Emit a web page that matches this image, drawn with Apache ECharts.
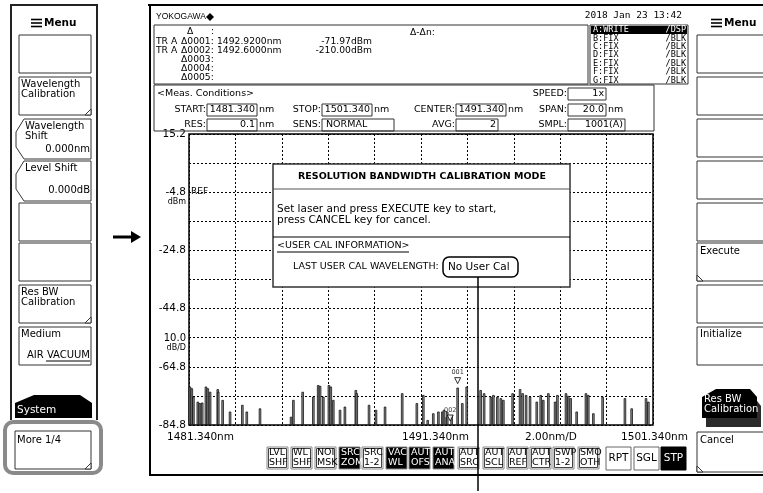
<!DOCTYPE html>
<html><head><meta charset="utf-8">
<script src="https://cdn.jsdelivr.net/npm/echarts@6/dist/echarts.min.js"></script>
<style>html,body{margin:0;padding:0;background:#fff}#c{width:763px;height:493px}</style>
</head><body><div id="c"></div>
<script>
// Sweep window
const START_NM = 1481.34;
const STOP_NM = 1501.34;
const NM_PER_DIV = 2;
const TOP_DBM = 15.2;
const BOTTOM_DBM = -84.8;
const DB_PER_DIV = 10;

// Axis annotations
const yTickLabels = ['15.2', '-4.8', '-24.8', '-44.8', '-64.8', '-84.8'];
const xTickLabels = ['1481.340nm', '1491.340nm', '2.00nm/D', '1501.340nm'];

// Trace A: spike wavelengths (nm) and peak levels (dBm)
const spikeNm = [1481.38,1481.46,1481.53,1481.72,1481.81,1481.91,1482.07,1482.15,1482.25,1482.58,1482.60,1482.79,1483.11,1483.64,1483.83,1484.40,1485.74,1485.84,1486.24,1486.70,1486.91,1486.99,1487.13,1487.37,1487.45,1487.56,1487.85,1488.06,1488.53,1488.57,1489.10,1489.40,1489.79,1490.53,1491.16,1491.44,1491.63,1491.87,1492.09,1492.26,1492.33,1492.45,1492.47,1492.66,1492.92,1493.12,1493.31,1493.91,1494.06,1494.35,1494.46,1494.63,1494.78,1494.89,1495.29,1495.61,1495.72,1495.87,1496.04,1496.33,1496.50,1496.61,1496.83,1497.12,1497.22,1497.59,1497.69,1497.79,1498.05,1498.45,1498.55,1498.77,1499.17,1500.13,1500.42,1501.04,1501.14];
const spikeDbm = [-71.6,-72.2,-75.1,-76.8,-77.3,-77.1,-71.6,-72.2,-73.4,-72.5,-73.4,-76.2,-80.2,-77.9,-80.2,-79.1,-82.0,-76.2,-73.4,-75.1,-71.1,-71.4,-75.1,-71.1,-71.6,-76.2,-79.6,-78.5,-72.8,-73.9,-77.9,-79.6,-78.5,-73.9,-77.3,-74.5,-83.1,-80.8,-80.2,-80.2,-79.6,-82.0,-80.2,-81.4,-71.97,-77.3,-71.6,-72.8,-73.9,-75.1,-74.5,-75.1,-75.6,-76.2,-73.9,-72.5,-73.9,-74.5,-75.1,-76.8,-74.5,-76.2,-73.9,-76.8,-74.5,-73.9,-74.8,-75.6,-80.2,-73.9,-74.5,-80.8,-75.1,-75.6,-79.1,-75.6,-76.8];

// Markers
const markerIds = ['001', '002'];
const markerNm = [1492.92, 1492.60];
const markerDbm = [-71.97, -210.00];

// Marker readout table
const markerRows = [
  ['TR A', '\u03940001:', '1492.9200nm', '-71.97dBm'],
  ['TR A', '\u03940002:', '1492.6000nm', '-210.00dBm'],
  ['', '\u03940003:', '', ''],
  ['', '\u03940004:', '', ''],
  ['', '\u03940005:', '', '']
];

// Trace status
const traceNames = ['A:WRITE', 'B:FIX', 'C:FIX', 'D:FIX', 'E:FIX', 'F:FIX', 'G:FIX'];
const traceModes = ['/DSP', '/BLK', '/BLK', '/BLK', '/BLK', '/BLK', '/BLK'];

// Status buttons along the bottom
const statusTop = ['LVL','WL','NOI','SRC','SRC','VAC','AUT','AUT','AUT','AUT','AUT','AUT','SWP','SMO'];
const statusBot = ['SHF','SHF','MSK','ZOM','1-2','WL','OFS','ANA','SRC','SCL','REF','CTR','1-2','OTH'];
const statusOn = [0,0,0,1,0,1,1,1,0,0,0,0,0,0];
const sweepKeys = ['RPT', 'SGL', 'STP'];
const sweepOn = [0, 0, 1];

const F = 'DejaVu Sans';
const MONO = 'DejaVu Sans Mono';
const G = [];
function rect(x, y, w, h, o = {}) {
  G.push({ type: 'rect', z: o.z || 20, shape: { x, y, width: w, height: h, r: o.r || 0 },
    style: { fill: o.fill || 'none', stroke: o.stroke === undefined ? '#333' : o.stroke, lineWidth: o.lw == null ? 1 : o.lw } });
}
function text(x, y, t, o = {}) {
  const font = (o.bold ? 'bold ' : '') + (o.size || 9) + 'px ' + (o.font || F);
  G.push({ type: 'text', z: o.z || 21, x, y,
    style: { text: t, fill: o.fill || '#000', font, align: o.align || 'left', verticalAlign: 'middle',
      textAlign: o.align || 'left', textVerticalAlign: 'middle' } });
}
function line(x1, y1, x2, y2, o = {}) {
  G.push({ type: 'line', z: o.z || 20, shape: { x1, y1, x2, y2 }, style: { stroke: o.stroke || '#000', lineWidth: o.lw || 1 } });
}
function poly(points, o = {}) {
  G.push({ type: o.open ? 'polyline' : 'polygon', z: o.z || 20, shape: { points },
    style: { fill: o.open ? 'none' : (o.fill || '#000'), stroke: o.stroke || 'none', lineWidth: o.lw || 1 } });
}
function menuIcon(x, y) {
  for (let i = -1; i <= 1; i++) line(x, y + i * 3.5, x + 11, y + i * 3.5, { lw: 1.6 });
  text(x + 13, y, 'Menu', { bold: true, size: 10.5 });
}
function foldBR(x, y) { poly([[x - 6, y], [x, y - 6], [x, y]], { fill: '#fff', stroke: '#333' }); }
function foldBL(x, y) { poly([[x + 6, y], [x, y - 6], [x, y]], { fill: '#fff', stroke: '#333' }); }

// ---- left soft-key panel ----
poly([[11, 420], [11, 5], [97, 5], [97, 420]], { open: true, stroke: '#222', lw: 2 });
menuIcon(31, 23);
const keyTops = [35, 77, 119, 161, 203, 243, 285, 327];
keyTops.forEach((t, i) => {
  if (i === 2 || i === 3) {
    poly([[91, t], [24, t], [16, t + 13], [16, t + 28], [24, t + 40], [91, t + 40], [91, t]], { open: true, stroke: '#333' });
  } else {
    rect(19, t, 72, 38);
  }
});
const KS = 10;
text(21, 84, 'Wavelength', { size: KS }); text(21, 94, 'Calibration', { size: KS }); foldBR(91, 115);
text(25, 126, 'Wavelength', { size: KS }); text(25, 136, 'Shift', { size: KS }); text(90, 149, '0.000nm', { size: KS, align: 'right' });
text(25, 168, 'Level Shift', { size: KS }); text(90, 190, '0.000dB', { size: KS, align: 'right' });
text(21, 292, 'Res BW', { size: KS }); text(21, 302, 'Calibration', { size: KS }); foldBR(91, 323);
text(21, 334, 'Medium', { size: KS }); text(90, 355, 'AIR VACUUM', { size: KS, align: 'right' }); line(46, 361, 90, 361);
poly([[15, 418], [15, 403], [34, 395], [80, 395], [92, 403], [92, 418]], { fill: '#000' });
text(17, 410, 'System', { size: 10.5, fill: '#fff' });
rect(5, 422, 96, 51, { r: 8, stroke: '#8a8a8a', lw: 4 });
rect(15, 431, 76, 38, { fill: '#fff' });
text(17, 440, 'More 1/4', { size: KS }); foldBR(91, 469);

// arrow between panels
line(113, 237, 133, 237, { lw: 3 });
poly([[131, 231], [141, 237], [131, 243]], { fill: '#000' });

// ---- main screen frame ----
line(148, 5, 763, 5, { lw: 2 });
line(150, 5, 150, 476, { lw: 2 });
line(150, 475, 763, 475, { lw: 2 });

// header
text(156, 17, 'YOKOGAWA', { size: 8.5, font: "'Liberation Sans Narrow','Liberation Sans'" });
poly([[210, 13], [214, 17], [210, 21], [206, 17]], { fill: '#000' });
text(682, 16, '2018 Jan 23 13:42', { size: 9.5, font: MONO, align: 'right' });

// marker readout
rect(154, 25, 434, 59);
const MS = 9.2;
text(187, 32, '\u0394', { size: MS }); text(211, 32, ':', { size: MS });
text(410, 33, '\u0394-\u0394n:', { size: MS });
markerRows.forEach((r, i) => {
  const y = 42 + i * 9;
  if (r[0]) text(156, y, r[0], { size: MS });
  text(181, y, r[1], { size: MS });
  if (r[2]) text(217, y, r[2], { size: MS });
  if (r[3]) text(372, y, r[3], { size: MS, align: 'right' });
});

// trace status table
rect(590, 25, 98, 59);
traceNames.forEach((n, i) => {
  const y = 30 + i * 8.4;
  const inv = i === 0;
  if (inv) rect(591, 26, 96, 8, { fill: '#000', stroke: 'none' });
  text(593, y, n, { size: 8.5, font: MONO, fill: inv ? '#fff' : '#000' });
  text(686, y, traceModes[i], { size: 8.5, font: MONO, align: 'right', fill: inv ? '#fff' : '#000' });
});

// measurement conditions
rect(154, 85, 500, 46);
text(157, 94, '<Meas. Conditions>', { size: 9.5 });
function field(lbl, lx, bx, bw, y, val, valAlign, unit) {
  text(lx, y, lbl, { align: 'right', size: 9.5 });
  rect(bx, y - 6, bw, 12);
  if (valAlign === 'left') text(bx + 4, y, val, { size: 9.5 }); else text(bx + bw - 2, y, val, { align: 'right', size: 9.5 });
  if (unit) text(bx + bw + 2, y, unit, { size: 9.5 });
}
field('SPEED:', 567, 568, 38, 94, '1x', 'right', '');
field('START:', 206, 207, 50, 110, '1481.340', 'right', 'nm');
field('STOP:', 321, 322, 50, 110, '1501.340', 'right', 'nm');
field('CENTER:', 455, 456, 50, 110, '1491.340', 'right', 'nm');
field('SPAN:', 567, 568, 38, 110, '20.0', 'right', 'nm');
field('RES:', 206, 207, 50, 125, '0.1', 'right', 'nm');
field('SENS:', 321, 322, 72, 125, 'NORMAL', 'left', '');
field('AVG:', 455, 456, 42, 125, '2', 'right', '');
field('SMPL:', 567, 568, 57, 125, '1001(A)', 'right', '');

// plot annotations
text(191, 192, 'REF', { size: 9 });
text(186, 202, 'dBm', { size: 8, align: 'right' });
text(186, 338, '10.0', { size: 10, align: 'right' });
text(186, 348, 'dB/D', { size: 8, align: 'right' });
text(167, 437, xTickLabels[0], { size: 10.5 });
text(402, 437, xTickLabels[1], { size: 10.5 });
text(525, 437, xTickLabels[2], { size: 10.5 });
text(688, 437, xTickLabels[3], { size: 10.5, align: 'right' });

// status buttons
const stX = [267, 291, 315, 339, 362, 386, 409, 433, 458, 483, 507, 530, 553, 578];
stX.forEach((x, i) => {
  const on = statusOn[i];
  rect(x, 447, 21, 22, { stroke: '#888', fill: on ? '#000' : '#fff' });
  if (!on) rect(x + 1.5, 448.5, 18, 19, { stroke: '#444' });
  text(x + 2, 453, statusTop[i], { size: 9.5, fill: on ? '#fff' : '#000' });
  text(x + 2, 463, statusBot[i], { size: 9.5, fill: on ? '#fff' : '#000' });
});
const swX = [606, 634, 661];
sweepKeys.forEach((k, i) => {
  const on = sweepOn[i];
  rect(swX[i], 447, 25, 23, { stroke: on ? '#000' : '#666', fill: on ? '#000' : '#fff' });
  text(swX[i] + 12.5, 458.5, k, { size: 10.5, align: 'center', fill: on ? '#fff' : '#000' });
});

// right soft-key panel
menuIcon(711, 23);
keyTops.forEach((t) => rect(697, t, 70, 38));
text(700, 251, 'Execute', { size: KS }); foldBL(697, 281);
text(700, 334, 'Initialize', { size: KS });
poly([[706, 427], [706, 406], [720, 397], [754, 397], [761, 406], [761, 427]], { fill: '#2b2b2b' });
poly([[702, 418], [702, 397], [716, 389], [750, 389], [757, 397], [757, 418]], { fill: '#000' });
text(704, 399, 'Res BW', { size: KS, fill: '#fff' });
text(704, 409, 'Calibration', { size: KS, fill: '#fff' });
rect(697, 432, 70, 40);
text(700, 440, 'Cancel', { size: KS }); foldBL(697, 472);

// calibration dialog
rect(273, 164, 297, 123, { fill: '#fff', stroke: '#333', lw: 1.5, z: 40 });
line(273, 189, 570, 189, { stroke: '#555', z: 41 });
text(422, 177, 'RESOLUTION BANDWIDTH CALIBRATION MODE', { bold: true, size: 9.5, align: 'center', z: 41 });
text(277, 209, 'Set laser and press EXECUTE key to start,', { size: 10.5, z: 41 });
text(277, 220, 'press CANCEL key for cancel.', { size: 10.5, z: 41 });
line(273, 237, 570, 237, { z: 41 });
text(277, 246, '<USER CAL INFORMATION>', { size: 9.5, z: 41 });
line(277, 252, 409, 252, { z: 41 });
text(293, 267, 'LAST USER CAL WAVELENGTH:', { size: 9.5, z: 41 });
rect(443, 257, 75, 20, { r: 6, lw: 1.5, fill: '#fff', stroke: '#000', z: 41 });
text(448, 267, 'No User Cal', { size: 10.5, z: 42 });
line(478, 277, 478, 491, { lw: 1.5, z: 41 });

// series data on the grid: offsets from the sweep start and the bottom of the scale
const traceData = spikeNm.map((nm, i) => [nm - START_NM, spikeDbm[i] - BOTTOM_DBM]);
const markerData = markerNm.map((nm, i) => ({
  value: [nm - START_NM, Math.max(markerDbm[i], BOTTOM_DBM) - BOTTOM_DBM],
  label: { formatter: markerIds[i] }
}));

const chart = echarts.init(document.getElementById('c'), null, { renderer: 'canvas' });
chart.setOption({
  animation: false,
  backgroundColor: '#fff',
  grid: { left: 189, top: 134, width: 464, height: 291, show: true, borderColor: '#000', borderWidth: 1.5, backgroundColor: 'transparent' },
  xAxis: {
    type: 'value', min: 0, max: STOP_NM - START_NM, interval: NM_PER_DIV,
    axisLine: { show: false }, axisTick: { show: false }, axisLabel: { show: false },
    splitLine: { show: true, lineStyle: { color: '#000', type: [2, 2], width: 1 } }
  },
  yAxis: {
    type: 'value', min: 0, max: TOP_DBM - BOTTOM_DBM, interval: DB_PER_DIV,
    axisLine: { show: false }, axisTick: { show: false },
    axisLabel: {
      margin: 3, color: '#000', fontFamily: F, fontSize: 10.5, showMinLabel: true, showMaxLabel: true,
      formatter: (v) => {
        const k = Math.round((TOP_DBM - BOTTOM_DBM - v) / (2 * DB_PER_DIV) * 1000) / 1000;
        return Number.isInteger(k) ? yTickLabels[k] : '';
      }
    },
    splitLine: { show: true, lineStyle: { color: '#000', type: [2, 2], width: 1 } }
  },
  series: [
    {
      type: 'bar', data: traceData, barWidth: 2.4,
      itemStyle: { color: '#8c8c8c', borderColor: '#000', borderWidth: 0.7 }, z: 3, silent: true
    },
    {
      type: 'scatter', data: markerData, symbol: 'triangle', symbolRotate: 180, symbolSize: 6,
      symbolOffset: [0, -7], itemStyle: { color: '#fff', borderColor: '#000', borderWidth: 1 }, z: 4,
      label: { show: true, position: 'top', distance: 1, fontSize: 6.5, fontFamily: F, color: '#000' }
    }
  ],
  graphic: { elements: G }
});
</script>
</body></html>
